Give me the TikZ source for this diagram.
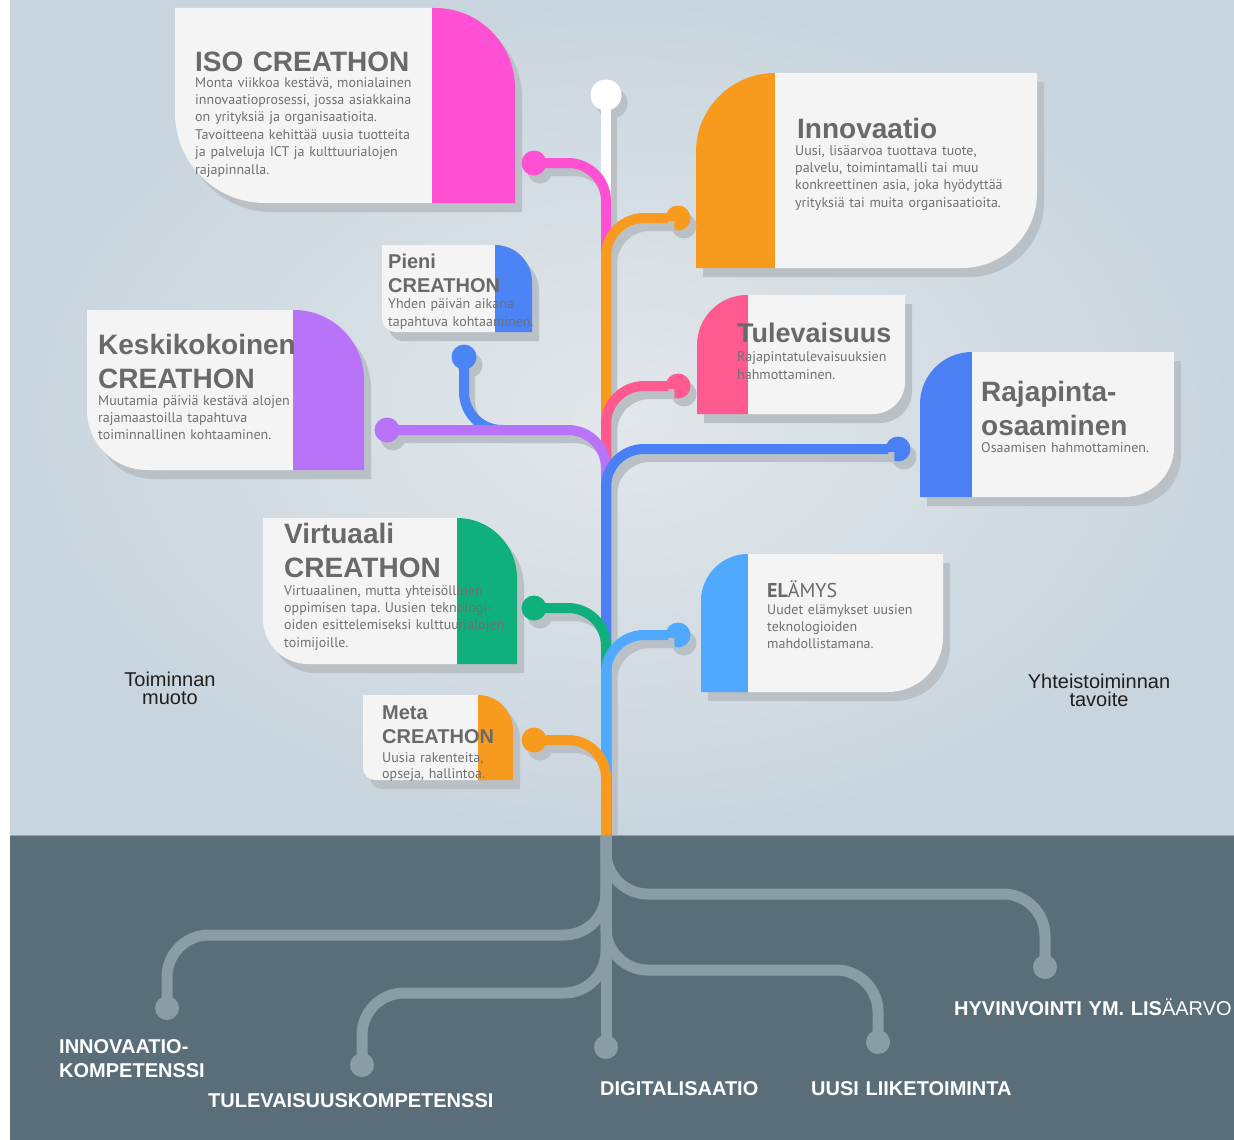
\documentclass[tikz,border=0pt]{standalone}
\usepackage{fontspec}
\setmainfont{PT Sans}
\newfontfamily\headfont{Liberation Sans}
\usetikzlibrary{shadows}
\frenchspacing

\definecolor{bglight}{HTML}{E2E7EB}
\definecolor{bgdark}{HTML}{C9D5DE}
\definecolor{panelc}{HTML}{5A6E7A}
\definecolor{panelline}{HTML}{95A3AC}
\definecolor{rootc}{HTML}{8A9DA7}
\definecolor{shadowc}{HTML}{BAC1C6}
\definecolor{cardc}{HTML}{F4F4F4}
\definecolor{headc}{HTML}{68696B}
\definecolor{bodyc}{HTML}{6F7072}
\definecolor{isoc}{HTML}{FF50D3}
\definecolor{innoc}{HTML}{F89A1E}
\definecolor{pienic}{HTML}{4B84F5}
\definecolor{keskic}{HTML}{B873F8}
\definecolor{tulevc}{HTML}{FF5A8F}
\definecolor{rajac}{HTML}{4B80F5}
\definecolor{virtc}{HTML}{0FB07B}
\definecolor{elamysc}{HTML}{4FA9FF}
\definecolor{metac}{HTML}{F89A1E}

% card with the band on the right: #1 x left, #2 x band, #3 x right, #4 y top, #5 y bottom, #6 band radius, #7 card radius, #8 colour
\newcommand{\leftcard}[8]{%
  \fill[shadowc, xshift=7pt, yshift=-9pt] (#1,#4) -- ({#3-#6},#4) arc[start angle=270, end angle=360, radius=#6] -- (#3,#5) -- ({#1+#7},#5) arc[start angle=90, end angle=180, radius=#7] -- cycle;
  \fill[cardc] (#1,#4) -- (#2,#4) -- (#2,#5) -- ({#1+#7},#5) arc[start angle=90, end angle=180, radius=#7] -- cycle;
  \fill[#8] (#2,#4) -- ({#3-#6},#4) arc[start angle=270, end angle=360, radius=#6] -- (#3,#5) -- (#2,#5) -- cycle;
}
% card with the band on the left
\newcommand{\rightcard}[8]{%
  \fill[shadowc, xshift=7pt, yshift=-9pt] (#1,#5) -- (#1,{#4+#6}) arc[start angle=180, end angle=270, radius=#6] -- (#3,#4) -- (#3,{#5-#7}) arc[start angle=0, end angle=90, radius=#7] -- cycle;
  \fill[#8] (#1,#5) -- (#1,{#4+#6}) arc[start angle=180, end angle=270, radius=#6] -- (#2,#4) -- (#2,#5) -- cycle;
  \fill[cardc] (#2,#4) -- (#3,#4) -- (#3,{#5-#7}) arc[start angle=0, end angle=90, radius=#7] -- (#2,#5) -- cycle;
}
% branches of the tree, top to bottom
\newcommand{\treelines}{%
  \draw[stem=white] (topDot) -- (tBase);
  \draw[stem=isoc] (isoDot) -| (tBase);
  \draw[stem=innoc] (innoDot) -| (tBase);
  \draw[stem=tulevc] (tulevDot) -| (tBase);
  \draw[stem=pienic] (pieniDot) |- (pieniJoin);
  \draw[stem=keskic] (keskiDot) -| (tBase);
  \draw[stem=rajac] (rajaDot) -| (tBase);
  \draw[stem=virtc] (virtDot) -| (tBase);
  \draw[stem=elamysc] (elamysDot) -| (tBase);
  \draw[stem=metac] (metaDot) -| (tBase);
}

\begin{document}
\begin{tikzpicture}[x=1pt, y=-1pt,
    twig/.style={line width=10pt, rounded corners=38pt, shorten <=-3pt},
    stem/.style={twig, draw=#1},
    bud/.style={circle, fill=#1, minimum size=25pt, inner sep=0pt,
      drop shadow={opacity=1, fill=shadowc, shadow xshift=6pt, shadow yshift=-8pt}},
    rootline/.style={draw=rootc, line width=11pt, rounded corners=42pt, shorten >=-3pt},
    rootbud/.style={circle, fill=rootc, minimum size=24pt, inner sep=0pt},
    headtxt/.style={font=\headfont\bfseries\fontsize{28}{34}\selectfont, text=headc,
      inner sep=0pt, anchor=base west, text width=320pt, align=left},
    smallhead/.style={headtxt, font=\headfont\bfseries\fontsize{20}{24.5}\selectfont},
    bodytxt/.style={font=\fontsize{14}{17.4}\selectfont, text=bodyc,
      inner sep=0pt, anchor=base west, text width=320pt, align=left},
    smallbody/.style={bodytxt, font=\fontsize{14}{18}\selectfont},
    sidetxt/.style={font=\headfont\fontsize{20}{18.5}\selectfont, text=black!88,
      inner sep=0pt, anchor=base, text width=200pt, align=center},
    roottxt/.style={font=\headfont\bfseries\fontsize{20}{24}\selectfont, text=white,
      inner sep=0pt, anchor=base west, text width=320pt, align=left}]

\useasboundingbox (0,0) rectangle (1234,1140);
\fill[white] (0,0) rectangle (1234,1140);
\shade[inner color=bglight, outer color=bgdark] (10,0) rectangle (1234,835);

% cards
\leftcard{175}{432}{515}{8}{203}{80}{90}{isoc}
\rightcard{696}{775}{1037}{73}{268}{79}{75}{innoc}
\leftcard{382}{495}{532}{245}{332}{37}{14}{pienic}
\leftcard{87}{293}{364}{310}{470}{70}{60}{keskic}
\rightcard{697}{748}{905}{295}{414}{50}{32}{tulevc}
\rightcard{920}{972}{1174}{352}{497}{52}{50}{rajac}
\leftcard{263}{457}{517}{518}{664}{60}{45}{virtc}
\rightcard{701}{748}{943}{554}{692}{47}{55}{elamysc}
\leftcard{363}{478}{513}{695}{780}{35}{12}{metac}

% ends of the branches
\node[bud=white, minimum size=31pt] (topDot) at (606,95) {};
\node[bud=isoc] (isoDot) at (534,163) {};
\node[bud=innoc] (innoDot) at (678,218) {};
\node[bud=pienic] (pieniDot) at (464,357) {};
\node[bud=tulevc] (tulevDot) at (678,386) {};
\node[bud=keskic] (keskiDot) at (387,430) {};
\node[bud=rajac] (rajaDot) at (898,449) {};
\node[bud=virtc] (virtDot) at (534,608) {};
\node[bud=elamysc] (elamysDot) at (678,635) {};
\node[bud=metac] (metaDot) at (534,740) {};
\coordinate (tBase) at (606,835);
\coordinate (pieniJoin) at (560,430);

\begin{scope}[transform canvas={xshift=6pt, yshift=-8pt}, stem/.style={twig, draw=shadowc}]
  \treelines
\end{scope}

\fill[panelc] (10,835) rectangle (1234,1140);
\draw[panelline, line width=1.5pt] (10,835.5) -- (1234,835.5);

\treelines

% roots
\node[rootbud] (rInno) at (167,1008) {};
\node[rootbud] (rTule) at (362,1065) {};
\node[rootbud] (rDigi) at (606,1047) {};
\node[rootbud] (rUusi) at (878,1042) {};
\node[rootbud] (rHyv) at (1045,967) {};
\coordinate (rHyvTurn) at (1045,894);
\coordinate (rInnoTurn) at (167,935);
\coordinate (rUusiTurn) at (878,970);
\coordinate (rTuleTurn) at (362,993);
\draw[rootline] (tBase) -- (rDigi);
\draw[rootline] (tBase) |- (rHyvTurn) -- (rHyv);
\draw[rootline] (tBase) |- (rInnoTurn) -- (rInno);
\draw[rootline] (tBase) |- (rUusiTurn) -- (rUusi);
\draw[rootline] (tBase) |- (rTuleTurn) -- (rTule);

% texts of the cards
\node[headtxt] (isoHead) at (195,71) {ISO CREATHON};
\node[bodytxt] (isoText) at (195,87) {Monta viikkoa kestävä, monialainen\\innovaatioprosessi, jossa asiakkaina\\on yrityksiä ja organisaatioita.\\Tavoitteena kehittää uusia tuotteita\\ja palveluja ICT ja kulttuurialojen\\rajapinnalla.};
\node[headtxt] (innoHead) at (797,138) {Innovaatio};
\node[bodytxt] (innoText) at (795,155) {Uusi, lisäarvoa tuottava tuote,\\palvelu, toimintamalli tai muu\\konkreettinen asia, joka hyödyttää\\yrityksiä tai muita organisaatioita.};
\node[smallhead] (pieniHead) at (388,268) {Pieni\\CREATHON};
\node[smallbody] (pieniText) at (388,308) {Yhden päivän aikana\\tapahtuva kohtaaminen.};
\node[headtxt] (keskiHead) at (98,354) {Keskikokoinen\\CREATHON};
\node[bodytxt] (keskiText) at (98,405) {Muutamia päiviä kestävä alojen\\rajamaastoilla tapahtuva\\toiminnallinen kohtaaminen.};
\node[headtxt, font=\headfont\bfseries\fontsize{27}{32}\selectfont] (tulevHead) at (737,342) {Tulevaisuus};
\node[smallbody] (tulevText) at (737,361) {Rajapintatulevaisuuksien\\hahmottaminen.};
\node[headtxt] (rajaHead) at (981,401) {Rajapinta-\\osaaminen};
\node[bodytxt] (rajaText) at (981,452) {Osaamisen hahmottaminen.};
\node[headtxt] (virtHead) at (284,543) {Virtuaali\\CREATHON};
\node[bodytxt] (virtText) at (284,595) {Virtuaalinen, mutta yhteisöllinen\\oppimisen tapa. Uusien teknologi-\\oiden esittelemiseksi kulttuurialojen\\toimijoille.};
\node[bodytxt, font=\fontsize{20}{22}\selectfont, text=headc] (elamysHead) at (767,597) {\textbf{EL}ÄMYS};
\node[bodytxt] (elamysText) at (767,614) {Uudet elämykset uusien\\teknologioiden\\mahdollistamana.};
\node[smallhead] (metaHead) at (382,719) {Meta\\CREATHON};
\node[smallbody, font=\fontsize{14}{16.5}\selectfont] (metaText) at (382,762) {Uusia rakenteita,\\opseja, hallintoa.};

% side labels
\node[sidetxt] (formLabel) at (170,686) {Toiminnan\\muoto};
\node[sidetxt] (goalLabel) at (1099,688) {Yhteistoiminnan\\tavoite};

% root labels
\node[roottxt] (rInnoLabel) at (59,1053) {INNOVAATIO-\\KOMPETENSSI};
\node[roottxt] (rTuleLabel) at (208,1107) {TULEVAISUUSKOMPETENSSI};
\node[roottxt] (rDigiLabel) at (600,1095) {DIGITALISAATIO};
\node[roottxt] (rUusiLabel) at (811,1095) {UUSI LIIKETOIMINTA};
\node[roottxt] (rHyvLabel) at (954,1015) {HYVINVOINTI YM. LIS{\mdseries ÄARVO}};
\end{tikzpicture}
\end{document}
